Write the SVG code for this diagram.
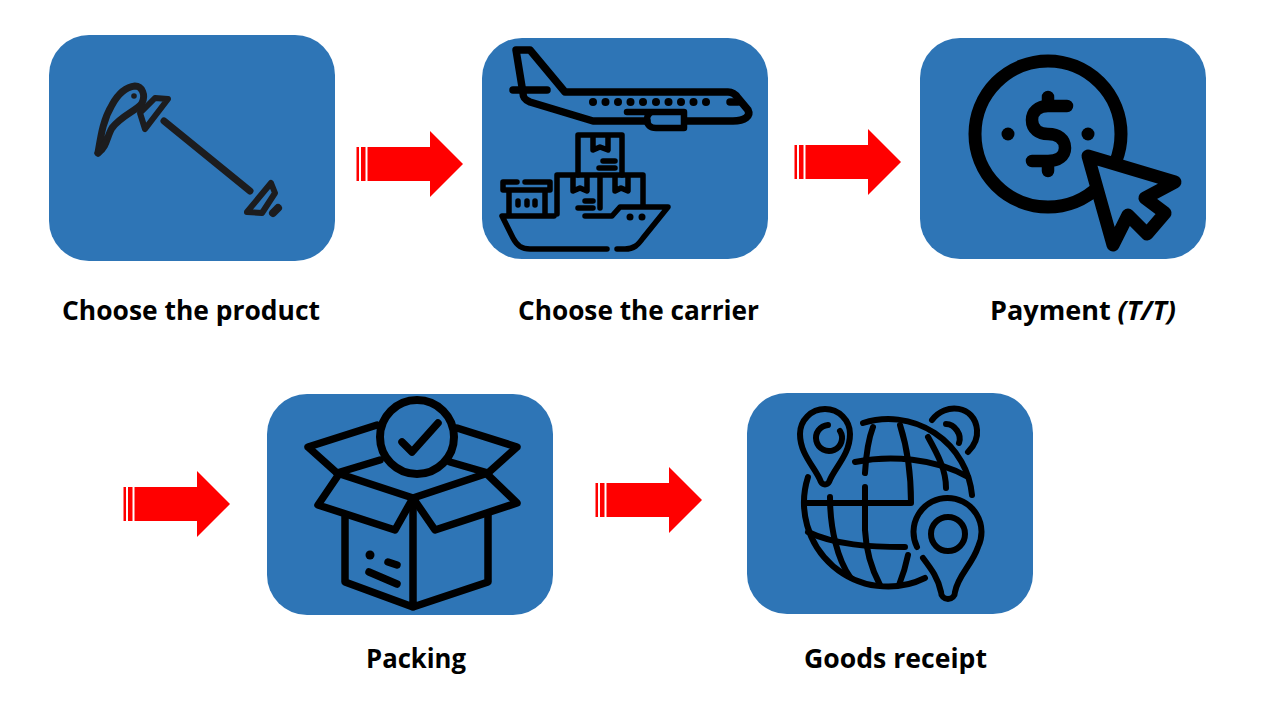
<svg xmlns="http://www.w3.org/2000/svg" width="1264" height="717" viewBox="0 0 1264 717">
<style>
.card{fill:#2e75b6}
.ic{fill:none;stroke:#000;stroke-width:6;stroke-linecap:round;stroke-linejoin:round}
.dark{stroke:#1c1c1e;stroke-width:7}
.s7{stroke-width:7.5}
.s6{stroke-width:6.5}
.s5{stroke-width:5.5}
.s8{stroke-width:8}
.s13{stroke-width:13}
.blue{fill:#2e75b6}
.dot{fill:#000}
.lbl{font-family:"Open Sans","Liberation Sans",sans-serif;font-weight:700;font-size:26px;fill:#000}
.arrow{fill:#ff0000}
</style>
<defs>
<g id="arrow-shape">
<rect class="arrow" x="0" y="-17" width="2.5" height="34"/>
<rect class="arrow" x="4.5" y="-17" width="4.5" height="34"/>
<path class="arrow" d="M11,-17H73.500V-33L106.500,0L73.500,33V17H11Z"/>
</g>
</defs>
<g id="connectors">
<use href="#arrow-shape" x="356.500" y="164"/>
<use href="#arrow-shape" x="794.500" y="162"/>
<use href="#arrow-shape" x="123.500" y="504"/>
<use href="#arrow-shape" x="595.500" y="500"/>
</g>
<g id="node-product">
<rect class="card" x="49" y="35" width="286" height="226" rx="40"/>
<path class="ic dark" d="M98,153C101,135 103,120 112,105C118,94 126,87 135,86C142,86 146,95 142,103C138,110 122,115 112,128C107,136 107,147 98,153Z"/>
<path class="ic dark" d="M98,153L105,143"/>
<circle cx="134" cy="96" r="2.800" fill="#1c1c1e"/>
<path class="ic dark" style="stroke-width:6" d="M140,113L155,98L168,99L145,129Z"/>
<path class="ic dark" d="M164,121L250,191"/>
<path class="ic dark" style="stroke-width:6" d="M271,183L275,193L262,213L247,212Z"/>
<path class="ic dark" style="stroke-width:8" d="M273,213L278,208"/>
<text class="lbl" x="62" y="320" textLength="258" lengthAdjust="spacingAndGlyphs">Choose the product</text>
</g>
<g id="node-carrier">
<rect class="card" x="482" y="38" width="286" height="221" rx="40"/>
<path class="ic s7" d="M687,121H733C745,121 751,116 748,110L738,98C736,95 733,92 728,92H565L530,50H516L523,93C523,98 525,100 530,102L593,121H647"/>
<path class="ic s7" d="M513,90H547M730,102H738"/>
<path class="ic s6" d="M627,112H684V128H656C650,128 647,125 647,120C647,116 649,113 652,112"/>
<g class="dot"><circle cx="593" cy="102" r="4"/><circle cx="605.500" cy="102" r="4"/><circle cx="618" cy="102" r="4"/><circle cx="630.500" cy="102" r="4"/><circle cx="643" cy="102" r="4"/><circle cx="656" cy="102" r="4"/><circle cx="668.500" cy="102" r="4"/><circle cx="681" cy="102" r="4"/><circle cx="693.500" cy="102" r="4"/><circle cx="706" cy="102" r="4"/></g>
<path class="ic s5" d="M578,175V135H622V175"/>
<path class="ic s5" d="M593,137V150L600,147L608,150V137M603,161H615M599,168H615"/>
<path class="ic s5" d="M557,214V175H643V205M600,175V208"/>
<path class="ic s5" d="M573,177V191L580,188L587,191V177M615,177V191L621,188L628,191V177M585,201H593M578,208H593"/>
<path class="ic s5" d="M517,182H503V190H550V182H525M509,190V215M545,190V215"/>
<path class="ic s5" d="M518,201V205M527,201V205M535,201V205"/>
<path class="ic s5" d="M585,216H612L620,207H668L643,238C638,245 634,249 625,249H617"/>
<path class="ic s5" d="M607,249H530C522,249 517,246 513,238L502,216H554"/>
<circle class="dot" cx="630" cy="217" r="3.500"/><circle class="dot" cx="642" cy="217" r="3.500"/>
<text class="lbl" x="518" y="320" textLength="241" lengthAdjust="spacingAndGlyphs">Choose the carrier</text>
</g>
<g id="node-payment">
<rect class="card" x="920" y="38" width="286" height="221" rx="40"/>
<circle class="ic s13" cx="1048" cy="134" r="73"/>
<path class="ic s13 blue" d="M1088,156L1175,182L1145,198L1165,213L1147,234L1128,215L1113,245Z"/>
<path class="ic" style="stroke-width:12.500" d="M1067,106H1048C1038,106 1032,112 1032,120C1032,129 1039,134 1048,134C1058,134 1065,139 1065,148C1065,156 1058,161 1048,161H1032M1048,97V106M1048,161V171"/>
<circle class="dot" cx="1008" cy="134" r="6.500"/><circle class="dot" cx="1088" cy="134" r="6.500"/>
<text class="lbl" x="990" y="320" textLength="186" lengthAdjust="spacingAndGlyphs">Payment <tspan font-style="italic">(T/T)</tspan></text>
</g>
<g id="node-packing">
<rect class="card" x="267" y="394" width="286" height="221" rx="40"/>
<path class="ic s7" d="M377,425L308,447L337,473L380,460M457,428L517,447L488,473L450,462"/>
<path class="ic s7" d="M337,473L413,498L488,473"/>
<path class="ic s7" d="M337,477L318,505L395,530L413,498L435,530L517,503L488,475"/>
<path class="ic s7" d="M345,517V582L413,607L488,582V515M413,503V607"/>
<circle class="ic s8" cx="417" cy="437" r="37"/>
<path class="ic s7" d="M402,442L412,452L438,423"/>
<circle class="dot" cx="370" cy="555" r="4.500"/>
<path class="ic s7" d="M388,562L397,565M369,572L397,584"/>
<text class="lbl" x="366" y="668" textLength="100" lengthAdjust="spacingAndGlyphs">Packing</text>
</g>
<g id="node-receipt">
<rect class="card" x="747" y="393" width="286" height="221" rx="40"/>
<path class="ic" d="M821,482C816,468 800,455 800,434A25 25 0 1 1 850,434C850,455 834,468 829,482A4.500 4.500 0 0 1 821,482Z"/>
<path class="ic" d="M828,425A13 13 0 1 0 840,431"/>
<path class="ic" d="M917,547A34 34 0 1 1 978,547C972,565 958,575 955,592A7 7 0 0 1 941,592C938,578 932,570 923,558"/>
<circle class="ic" cx="948" cy="534" r="17"/>
<path class="ic" d="M808,477A84 84 0 0 0 925,578M863,423A84 84 0 0 1 972,495"/>
<path class="ic" d="M873,427C868,440 866,455 865,473M865,487V530C866,550 872,570 880,585"/>
<path class="ic" d="M900,425C908,450 911,480 911,503H807"/>
<path class="ic" d="M830,497C830,530 838,560 850,577"/>
<path class="ic" d="M855,462C890,455 935,458 968,477"/>
<path class="ic" d="M928,437C938,455 946,470 946,488"/>
<path class="ic" d="M808,532C835,545 870,547 905,547"/>
<path class="ic" d="M908,555C906,565 903,575 899,585"/>
<path class="ic" d="M932,420C945,402 975,405 977,430C978,440 972,448 968,452M946,424C955,424 962,435 959,443"/>
<text class="lbl" x="804" y="668" textLength="183" lengthAdjust="spacingAndGlyphs">Goods receipt</text>
</g>
</svg>
